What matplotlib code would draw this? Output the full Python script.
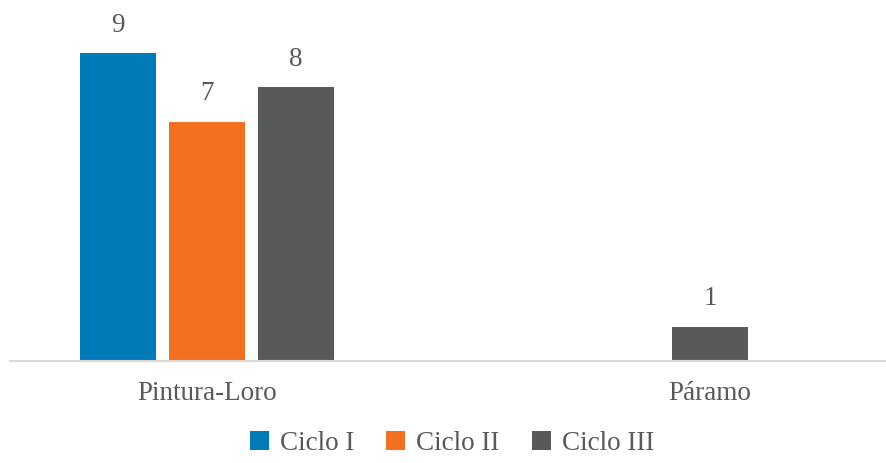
import matplotlib
matplotlib.use("Agg")
import matplotlib.pyplot as plt
from matplotlib.patches import Patch

categories = ["Pintura-Loro", "Páramo"]
series_names = ["Ciclo I", "Ciclo II", "Ciclo III"]
ciclo_1 = [9, None]
ciclo_2 = [7, None]
ciclo_3 = [8, 1]
colors = ["#007BB8", "#F37021", "#58595B"]

plt.rcParams["font.family"] = ["Liberation Serif", "DejaVu Serif"]
text_color = "#595959"
fs = 19.5

fig = plt.figure(figsize=(8.87, 4.64), dpi=100)
ax = fig.add_axes([10 / 887, 1 - 362 / 464, 877 / 887, 342 / 464])

series = [ciclo_1, ciclo_2, ciclo_3]
step = 89 / 503
width = 76 / 503
cat_pos = [0, 1]

for ci, cx in enumerate(cat_pos):
    present = [si for si in range(len(series)) if series[si][ci] is not None]
    n = len(present)
    for k, si in enumerate(present):
        x = cx + (k - (n - 1) / 2) * step
        v = series[si][ci]
        ax.bar(x, v, width=width, color=colors[si], zorder=2)
        ax.annotate(str(v), (x, v), xytext=(0, 12), textcoords="offset points",
                    ha="center", va="bottom", fontsize=fs, color=text_color)

ax.set_xlim((10 - 207) / 503, (887 - 207) / 503)
ax.set_ylim(0, 10)
for s in ["top", "right", "left"]:
    ax.spines[s].set_visible(False)
ax.spines["bottom"].set_color("#D9D9D9")
ax.spines["bottom"].set_linewidth(1.5)
ax.set_yticks([])
ax.set_xticks(cat_pos)
ax.set_xticklabels(categories, fontsize=fs, color=text_color)
ax.tick_params(axis="x", length=0, pad=14)

handles = [Patch(facecolor=c, edgecolor="none") for c in colors]
fig.legend(handles, series_names, loc="center", bbox_to_anchor=(452 / 887, 1 - 444 / 464),
           ncol=3, frameon=False, fontsize=fs, handlelength=0.7, handleheight=0.7,
           handletextpad=0.4, columnspacing=1.2, labelcolor=text_color)

fig.savefig("out.png", dpi=100)
